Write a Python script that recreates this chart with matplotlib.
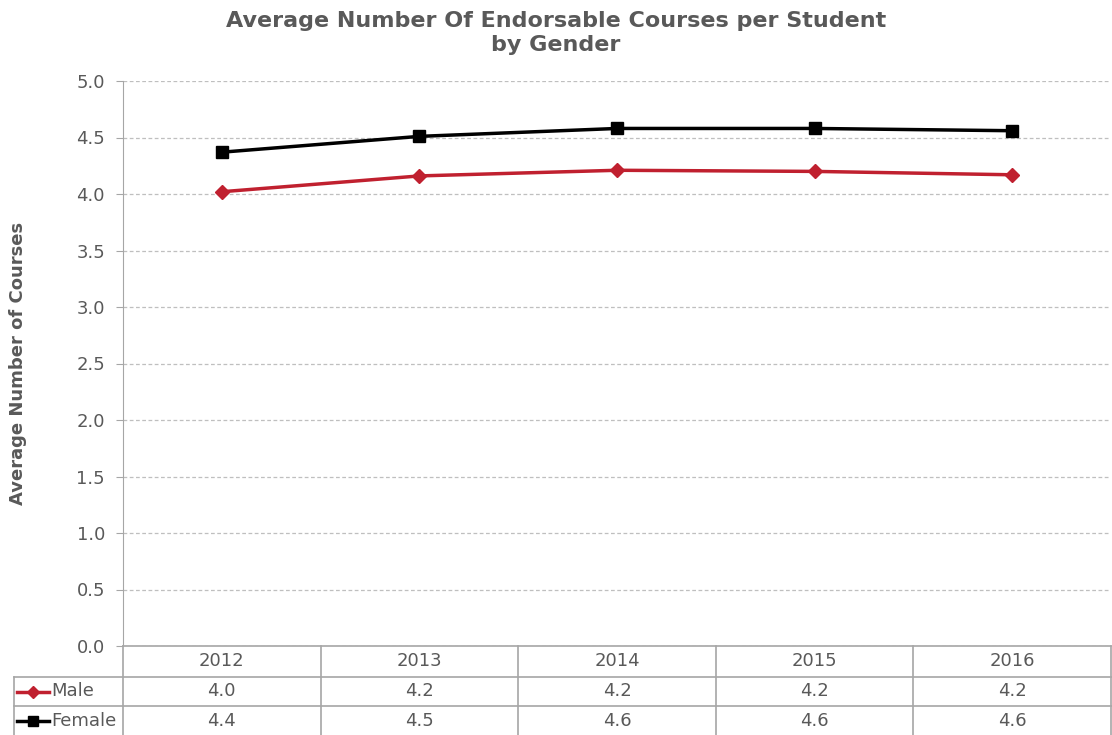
import matplotlib
matplotlib.use("Agg")
import matplotlib.pyplot as plt
from matplotlib.lines import Line2D
import matplotlib.transforms as mtransforms

# data
years = ["2012", "2013", "2014", "2015", "2016"]
male = [4.02, 4.16, 4.21, 4.20, 4.17]
female = [4.37, 4.51, 4.58, 4.58, 4.56]

W, H = 1112, 735
TEXT = "#595959"
GRIDC = "#bfbfbf"
TABC = "#a6a6a6"
RED = "#c0202f"

fig = plt.figure(figsize=(W / 100, H / 100), dpi=100)


def fx(px):
    return px / W


def fy(py):
    return 1 - py / H


left, right, top, bottom = 123, 1111, 81, 646
ax = fig.add_axes([fx(left), fy(bottom), fx(right - left), fy(top) - fy(bottom)])

xs = list(range(len(years)))
ax.plot(xs, male, color=RED, lw=2.5, marker="D", ms=7, label="Male")
ax.plot(xs, female, color="black", lw=2.5, marker="s", ms=8, label="Female")

ax.set_xlim(-0.5, len(years) - 0.5)
ax.set_ylim(0, 5)
ax.set_yticks([i * 0.5 for i in range(11)])
ax.set_yticklabels([f"{i * 0.5:.1f}" for i in range(11)], fontsize=13, color=TEXT)
ax.set_xticks([])
ax.yaxis.grid(True, ls=(0, (3, 2)), color=GRIDC, lw=0.9)
ax.set_axisbelow(True)
for s in ["top", "right", "bottom"]:
    ax.spines[s].set_visible(False)
ax.spines["left"].set_color(TABC)
ax.tick_params(axis="y", length=5, color=TABC, pad=8)

ax.set_ylabel("Average Number of Courses", fontsize=13, fontweight="bold",
              color=TEXT)
ax.yaxis.set_label_coords((27 - left) / (right - left), 0.5)

fig.text(0.5, fy(33), "Average Number Of Endorsable Courses per Student\nby Gender",
         ha="center", va="center", fontsize=16, fontweight="bold", color=TEXT,
         linespacing=1.3)

# data table under the chart
tr = mtransforms.blended_transform_factory(ax.transData, fig.transFigure)
rows = [bottom, 677, 706, H]
lw = 1.2
for i in range(len(years) + 1):
    ax.add_line(Line2D([i - 0.5, i - 0.5], [fy(bottom), 0], transform=tr,
                       color=TABC, lw=lw, clip_on=False))
ax.add_line(Line2D([-0.5, len(years) - 0.5], [fy(bottom)] * 2, transform=tr,
                   color=TABC, lw=lw, clip_on=False))
for r in rows[1:3]:
    fig.add_artist(Line2D([fx(14), 1], [fy(r)] * 2, color=TABC, lw=lw))
fig.add_artist(Line2D([fx(14)] * 2, [fy(rows[1]), 0], color=TABC, lw=lw))

for i, y in enumerate(years):
    ax.text(i, fy((rows[0] + rows[1]) / 2), y, transform=tr, ha="center",
            va="center", fontsize=13, color=TEXT)
    ax.text(i, fy((rows[1] + rows[2]) / 2), f"{male[i]:.1f}", transform=tr,
            ha="center", va="center", fontsize=13, color=TEXT)
    ax.text(i, fy((rows[2] + rows[3]) / 2), f"{female[i]:.1f}", transform=tr,
            ha="center", va="center", fontsize=13, color=TEXT)

for name, color, mk, ms, (r0, r1) in [("Male", RED, "D", 6, (rows[1], rows[2])),
                                      ("Female", "black", "s", 7, (rows[2], rows[3]))]:
    yc = fy((r0 + r1) / 2)
    fig.add_artist(Line2D([fx(17), fx(49)], [yc, yc], color=color, lw=2.5))
    fig.add_artist(Line2D([fx(33)], [yc], color=color, marker=mk, ms=ms, lw=0))
    fig.text(fx(51), yc, name, ha="left", va="center", fontsize=13, color=TEXT)

fig.savefig("out.png", dpi=100)
